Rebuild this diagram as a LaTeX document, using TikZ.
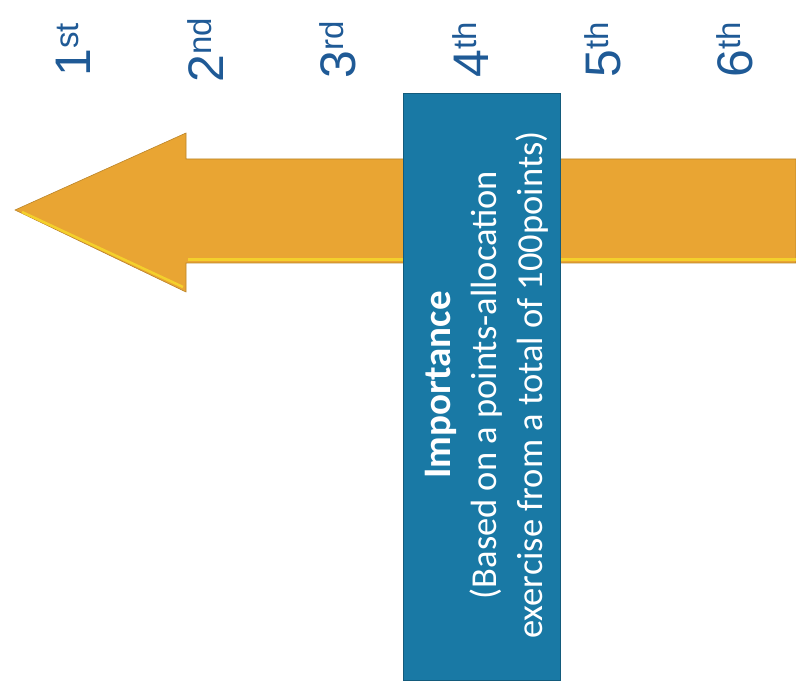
\documentclass[tikz,border=0pt]{standalone}
\usepackage{fontspec}
\setmainfont{Liberation Sans}
\newfontfamily\boxfont{Carlito}
\definecolor{rankblue}{HTML}{1F5A96}
\definecolor{arroworange}{HTML}{E9A533}
\definecolor{arrowlight}{HTML}{F4D02C}
\definecolor{boxblue}{HTML}{1979A5}

\tikzset{
    rank/.style={text=rankblue, rotate=90, inner sep=0pt, font=\fontsize{50}{50}\selectfont},
    infobox/.style={fill=boxblue, draw=boxblue!75!black, line width=0.8pt, minimum width=157pt, minimum height=587pt, inner sep=0pt},
    infotext/.style={text=white, rotate=90, align=center, inner sep=0pt, font=\boxfont\fontsize{36.5}{46}\selectfont}
}

\begin{document}
\begin{tikzpicture}[x=1pt,y=-1pt]
    \useasboundingbox (0,0) rectangle (796,687);
    % arrow pointing to the 1st rank
    \coordinate (tip) at (15,210);
    \fill[arroworange, draw=arroworange!80!black, line width=0.6pt] (tip) -- (186,133) -- (186,159) -- (796,159) -- (796,263) -- (186,263) -- (186,292) -- cycle;
    \draw[arrowlight, line width=3pt] (188,260) -- (796,260);
    \draw[arrowlight, line width=2.5pt] (183,287) -- (22,212);
    \foreach \n/\s [count=\i] in {1/st,2/nd,3/rd,4/th,5/th,6/th}{
        \node[rank] (rank\i) at ({73.5+132.3*(\i-1)},50) {\n\raisebox{12pt}{\fontsize{33}{33}\selectfont\s}};
    }
    \node[infobox] (box) at (481.5,386.5) {};
    \node[infotext] (boxtext) at (487,385) {{\fontsize{39}{46}\selectfont\textbf{Importance}}\\(Based on a points-allocation\\exercise from a total of 100points)};
\end{tikzpicture}
\end{document}
